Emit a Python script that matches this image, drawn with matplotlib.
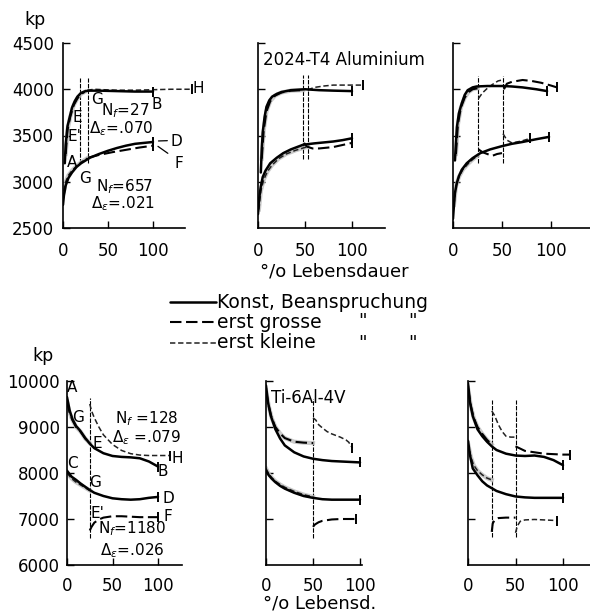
import matplotlib
matplotlib.use("Agg")
import matplotlib.pyplot as plt
from matplotlib.lines import Line2D

plt.rcParams['font.family'] = ['DejaVu Sans']
plt.rcParams['mathtext.fontset'] = 'dejavusans'

W, H = 590, 614

# ---------------- data: 2024-T4 Aluminium (kp vs % life) ----------------
# panel A: one change near 20-28 %
al_a_const_hi_x = [2, 3, 5, 8, 10, 13, 16, 20, 25, 30, 40, 60, 80, 100]
al_a_const_hi_y = [3200, 3400, 3600, 3720, 3800, 3870, 3920, 3960, 3980, 3985, 3985, 3980, 3975, 3975]
al_a_const_lo_x = [0, 1, 3, 6, 10, 15, 20, 30, 40, 50, 60, 70, 80, 90, 100]
al_a_const_lo_y = [2750, 2850, 2960, 3040, 3100, 3160, 3200, 3260, 3300, 3335, 3365, 3390, 3410, 3420, 3430]
al_a_grosse_x = [[3, 5, 8, 12, 16, 20, 24], [28, 40, 55, 70, 85, 100]]
al_a_grosse_y = [[3300, 3560, 3700, 3830, 3900, 3950, 3970], [3260, 3290, 3320, 3345, 3370, 3390]]
al_a_kleine_x = [[1, 3, 6, 10, 15, 20, 27], [27, 35, 45, 60, 80, 100, 120, 143]]
al_a_kleine_y = [[2900, 3000, 3070, 3120, 3170, 3210, 3255], [3990, 4000, 3995, 3990, 3990, 3995, 4000, 4000]]
al_a_steps = [19, 28]
al_a_step_lo, al_a_step_hi = 3200, 4120

# panel B: change at ~50 %
al_b_const_hi_x = [3, 4, 5, 7, 9, 12, 15, 20, 25, 35, 50, 65, 80, 100]
al_b_const_hi_y = [3100, 3350, 3530, 3700, 3810, 3880, 3920, 3950, 3970, 3990, 4000, 3990, 3985, 3980]
al_b_const_lo_x = [0, 1, 3, 5, 8, 13, 20, 27, 35, 48, 60, 70, 80, 90, 100]
al_b_const_lo_y = [2650, 2800, 2950, 3050, 3120, 3200, 3260, 3310, 3350, 3400, 3415, 3425, 3435, 3450, 3470]
al_b_grosse_x = [[4, 6, 9, 13, 18, 25, 35, 48], [49, 52, 58, 65, 80, 100]]
al_b_grosse_y = [[3250, 3550, 3760, 3870, 3930, 3965, 3985, 3990], [3420, 3380, 3360, 3360, 3375, 3420]]
al_b_kleine_x = [[1, 3, 6, 10, 15, 22, 30, 40, 53], [53, 56, 60, 70, 80, 95, 112]]
al_b_kleine_y = [[2700, 2900, 3020, 3110, 3180, 3250, 3300, 3340, 3380], [3990, 4005, 4020, 4035, 4045, 4045, 4045]]
al_b_steps = [48, 53]
al_b_step_lo, al_b_step_hi = 3250, 4150

# panel C: changes at 25 % and 50 %
al_c_const_hi_x = [2, 3, 4, 6, 9, 12, 15, 20, 24, 35, 51, 60, 71, 85, 96]
al_c_const_hi_y = [3230, 3420, 3590, 3740, 3850, 3940, 3990, 4020, 4030, 4035, 4035, 4030, 4020, 4000, 3980]
al_c_const_lo_x = [0, 1, 2, 4, 6, 9, 14, 20, 28, 38, 50, 60, 71, 85, 98]
al_c_const_lo_y = [2600, 2750, 2880, 2990, 3060, 3130, 3200, 3255, 3310, 3350, 3385, 3410, 3430, 3460, 3485]
al_c_grosse_x = [[3, 5, 8, 12, 16, 20, 25], [26, 30, 35, 40, 45, 50], [52, 55, 60, 71, 80, 90, 100, 106]]
al_c_grosse_y = [[3300, 3620, 3800, 3910, 3970, 4000, 4010], [3350, 3320, 3300, 3280, 3300, 3310],
                 [4000, 4060, 4080, 4100, 4090, 4070, 4040, 4020]]
al_c_kleine_x = [[1, 3, 6, 10, 15, 20, 25], [26, 30, 35, 40, 46, 50], [51, 55, 60, 70, 79]]
al_c_kleine_y = [[2750, 2950, 3050, 3130, 3190, 3240, 3280], [3900, 3960, 4010, 4050, 4090, 4100],
                 [3520, 3450, 3420, 3440, 3470]]
al_c_steps = [25, 51]
al_c_step_lo, al_c_step_hi = 3200, 4140

# ---------------- data: Ti-6Al-4V ----------------
ti_a_const_hi_x = [0, 3, 6, 10, 14, 20, 25, 30, 40, 50, 60, 70, 80, 90, 100]
ti_a_const_hi_y = [9650, 9350, 9170, 9020, 8930, 8760, 8640, 8540, 8430, 8370, 8350, 8340, 8320, 8250, 8140]
ti_a_const_lo_x = [0, 5, 10, 15, 20, 25, 30, 40, 50, 60, 70, 80, 90, 100]
ti_a_const_lo_y = [8050, 7920, 7850, 7770, 7700, 7630, 7570, 7500, 7450, 7430, 7420, 7430, 7460, 7480]
ti_a_grosse_x = [[0, 3, 6, 10, 15, 20, 25], [25, 27, 30, 35, 40, 50, 60, 70, 80, 90, 100]]
ti_a_grosse_y = [[9550, 9300, 9150, 9000, 8900, 8750, 8650],
                 [6750, 6830, 6920, 6990, 7030, 7060, 7060, 7050, 7040, 7040, 7040]]
ti_a_kleine_x = [[0, 5, 10, 15, 20, 25], [25, 27, 30, 35, 40, 50, 60, 70, 80, 90, 100, 113]]
ti_a_kleine_y = [[8000, 7880, 7800, 7740, 7680, 7620],
                 [9500, 9350, 9200, 9000, 8830, 8620, 8490, 8420, 8390, 8380, 8380, 8380]]
ti_a_steps = [25]
ti_a_step_lo, ti_a_step_hi = 6590, 9630

ti_b_const_hi_x = [0, 2, 5, 10, 15, 20, 30, 40, 50, 60, 70, 80, 90, 100]
ti_b_const_hi_y = [9900, 9550, 9250, 8950, 8750, 8600, 8450, 8360, 8310, 8280, 8260, 8250, 8240, 8230]
ti_b_const_lo_x = [0, 3, 6, 10, 15, 20, 30, 40, 50, 60, 70, 80, 90, 100]
ti_b_const_lo_y = [8050, 7950, 7880, 7800, 7720, 7660, 7570, 7500, 7460, 7430, 7420, 7420, 7420, 7420]
ti_b_grosse_x = [[0, 3, 6, 10, 15, 20, 30, 40, 50], [50, 52, 56, 60, 70, 80, 90, 96]]
ti_b_grosse_y = [[9800, 9450, 9200, 9000, 8860, 8760, 8680, 8660, 8650],
                 [6830, 6880, 6930, 6960, 6990, 7000, 7000, 7000]]
ti_b_kleine_x = [[0, 3, 6, 10, 15, 20, 30, 40, 50], [50, 53, 56, 60, 65, 70, 79, 85, 88, 92]]
ti_b_kleine_y = [[8100, 7980, 7900, 7820, 7750, 7690, 7600, 7530, 7480],
                 [9200, 9150, 9050, 8980, 8900, 8850, 8780, 8720, 8670, 8540]]
ti_b_steps = [50]
ti_b_step_lo, ti_b_step_hi = 6590, 9600

ti_c_const_hi_x = [0, 2, 5, 10, 15, 20, 25, 30, 40, 50, 60, 70, 80, 90, 100]
ti_c_const_hi_y = [9950, 9550, 9240, 8950, 8800, 8680, 8580, 8500, 8420, 8380, 8370, 8380, 8350, 8280, 8170]
ti_c_const_lo_x = [0, 2, 5, 10, 15, 20, 25, 30, 40, 50, 60, 70, 80, 90, 100]
ti_c_const_lo_y = [8700, 8400, 8100, 7950, 7820, 7730, 7670, 7610, 7540, 7490, 7470, 7460, 7460, 7460, 7460]
ti_c_grosse_x = [[0, 3, 6, 10, 15, 20, 25], [25, 26, 28, 32, 40, 50], [50, 55, 60, 70, 80, 90, 100, 107]]
ti_c_grosse_y = [[9850, 9450, 9200, 9000, 8850, 8720, 8620], [6720, 6900, 6980, 7020, 7030, 7030],
                 [8580, 8530, 8480, 8450, 8420, 8410, 8400, 8400]]
ti_c_kleine_x = [[0, 3, 6, 10, 15, 20, 25], [25, 28, 32, 36, 40, 45, 50], [50, 52, 55, 60, 70, 80, 90, 94]]
ti_c_kleine_y = [[8650, 8350, 8170, 8050, 7960, 7890, 7850], [9350, 9250, 9050, 8900, 8800, 8780, 8780],
                 [6700, 6850, 6950, 6980, 6990, 6980, 6970, 6960]]
ti_c_steps = [25, 50]
ti_c_step_lo, ti_c_step_hi = 6610, 9590

x_ticks = [0, 50, 100]
al_yticks = [2500, 3000, 3500, 4000, 4500]
ti_yticks = [6000, 7000, 8000, 9000, 10000]

legend_labels = ["Konst, Beanspruchung", "erst grosse", "erst kleine"]

# ---------------- figure ----------------
fig = plt.figure(figsize=(W / 100, H / 100), dpi=100)
fig.patch.set_facecolor('white')

SOLID = dict(color='black', lw=1.8, linestyle='-', solid_capstyle='round')
GROSSE = dict(color='black', lw=1.5, linestyle=(0, (5.5, 2.2)))
KLEINE = dict(color='#222222', lw=1.1, linestyle=(0, (3.5, 1.8)))
UNDER = dict(color='#bdbdbd', lw=3.0, linestyle='-', alpha=0.8)


def add_ax(left, top, xscale, xmax, bottom, ymin, ymax):
    width = xscale * xmax
    ax = fig.add_axes([left / W, 1 - bottom / H, width / W, (bottom - top) / H])
    ax.set_xlim(0, xmax)
    ax.set_ylim(ymin, ymax)
    ax.patch.set_alpha(0)
    for s in ['top', 'right']:
        ax.spines[s].set_visible(False)
    for s in ['left', 'bottom']:
        ax.spines[s].set_linewidth(1.2)
    return ax


def endcap(ax, x, y, size=7):
    ax.plot([x[-1]], [y[-1]], marker='|', color='black', markersize=size, mew=1.4)


def draw_panel(ax, hi_x, hi_y, lo_x, lo_y, gx, gy, kx, ky, steps, s_lo, s_hi):
    ax.vlines(steps, s_lo, s_hi, color='black', lw=0.8, linestyles=(0, (4, 1.2)))
    # grey fuzz where the first block overlaps the constant-amplitude curve
    ax.plot(kx[0], ky[0], **UNDER)
    ax.plot(gx[0], gy[0], **UNDER)
    for xs, ys in zip(kx, ky):
        ax.plot(xs, ys, **KLEINE)
    for xs, ys in zip(gx, gy):
        ax.plot(xs, ys, **GROSSE)
    ax.plot(hi_x, hi_y, **SOLID)
    ax.plot(lo_x, lo_y, **SOLID)
    endcap(ax, hi_x, hi_y)
    endcap(ax, lo_x, lo_y)
    endcap(ax, gx[-1], gy[-1])
    endcap(ax, kx[-1], ky[-1])


def style(ax, yticks, show_ylab, xbound, xpad, ypad):
    ax.spines['bottom'].set_bounds(0, xbound)
    ax.set_xticks(x_ticks)
    ax.set_yticks(yticks)
    ax.tick_params(axis='both', direction='in', length=5, width=1.0, labelsize=12)
    ax.tick_params(axis='x', pad=xpad)
    ax.tick_params(axis='y', pad=ypad, labelleft=show_ylab)


# top row
axA = add_ax(63, 43, 0.90, 145, 228, 2500, 4500)
axB = add_ax(258, 43, 0.94, 140, 228, 2500, 4500)
axC = add_ax(453, 43, 0.98, 140, 228, 2500, 4500)
# bottom row
axD = add_ax(67, 381, 0.91, 130, 565, 6000, 10000)
axE = add_ax(266, 381, 0.94, 130, 565, 6000, 10000)
axF = add_ax(468, 381, 0.95, 128, 565, 6000, 10000)

draw_panel(axA, al_a_const_hi_x, al_a_const_hi_y, al_a_const_lo_x, al_a_const_lo_y,
           al_a_grosse_x, al_a_grosse_y, al_a_kleine_x, al_a_kleine_y, al_a_steps, al_a_step_lo, al_a_step_hi)
draw_panel(axB, al_b_const_hi_x, al_b_const_hi_y, al_b_const_lo_x, al_b_const_lo_y,
           al_b_grosse_x, al_b_grosse_y, al_b_kleine_x, al_b_kleine_y, al_b_steps, al_b_step_lo, al_b_step_hi)
draw_panel(axC, al_c_const_hi_x, al_c_const_hi_y, al_c_const_lo_x, al_c_const_lo_y,
           al_c_grosse_x, al_c_grosse_y, al_c_kleine_x, al_c_kleine_y, al_c_steps, al_c_step_lo, al_c_step_hi)
draw_panel(axD, ti_a_const_hi_x, ti_a_const_hi_y, ti_a_const_lo_x, ti_a_const_lo_y,
           ti_a_grosse_x, ti_a_grosse_y, ti_a_kleine_x, ti_a_kleine_y, ti_a_steps, ti_a_step_lo, ti_a_step_hi)
draw_panel(axE, ti_b_const_hi_x, ti_b_const_hi_y, ti_b_const_lo_x, ti_b_const_lo_y,
           ti_b_grosse_x, ti_b_grosse_y, ti_b_kleine_x, ti_b_kleine_y, ti_b_steps, ti_b_step_lo, ti_b_step_hi)
draw_panel(axF, ti_c_const_hi_x, ti_c_const_hi_y, ti_c_const_lo_x, ti_c_const_lo_y,
           ti_c_grosse_x, ti_c_grosse_y, ti_c_kleine_x, ti_c_kleine_y, ti_c_steps, ti_c_step_lo, ti_c_step_hi)

style(axA, al_yticks, True, 135, 10, 6.5)
style(axB, al_yticks[1:], False, 135, 10, 6.5)
style(axC, al_yticks[1:], False, 140, 10, 6.5)
style(axD, ti_yticks, True, 126, 8.5, 5)
style(axE, ti_yticks[1:], False, 102, 8.5, 5)
style(axF, ti_yticks[1:], False, 128, 8.5, 5)

# ---------------- annotations ----------------
FS = 11
def lab(ax, x, y, s, fs=FS, ha='center'):
    ax.text(x, y, s, fontsize=fs, ha=ha, va='center', clip_on=False)

# Aluminium panel A
lab(axA, 150, 4003, "H")
lab(axA, 104, 3830, "B")
lab(axA, 38, 3884, "G")
lab(axA, 69, 3765, "N$_f$=27")
lab(axA, 65, 3575, "Δ$_\\varepsilon$=.070")
lab(axA, 15.5, 3700, "E")
lab(axA, 13, 3484, "E'")
lab(axA, 10, 3213, "A")
lab(axA, 24, 3040, "G")
lab(axA, 126, 3430, "D")
lab(axA, 129, 3200, "F")
lab(axA, 69, 2945, "N$_f$=657")
lab(axA, 67, 2760, "Δ$_\\varepsilon$=.021")
axA.annotate("", xy=(103, 3440), xytext=(119, 3445), arrowprops=dict(arrowstyle='-', lw=0.9))
axA.annotate("", xy=(103, 3400), xytext=(119, 3290), arrowprops=dict(arrowstyle='-', lw=0.9))
axB.text(5, 4316, "2024-T4 Aluminium", fontsize=12, ha='left', va='center')

# Ti panel D
lab(axD, 5.5, 9848, "A")
lab(axD, 12, 9196, "G")
lab(axD, 88, 9175, "N$_f$ =128")
lab(axD, 88, 8770, "Δ$_\\varepsilon$ =.079")
lab(axD, 33, 8652, "E")
lab(axD, 121, 8326, "H")
lab(axD, 5.5, 8217, "C")
lab(axD, 105, 8030, "B")
lab(axD, 31, 7783, "G")
lab(axD, 111, 7440, "D")
lab(axD, 33, 7130, "E'")
lab(axD, 111, 7060, "F")
lab(axD, 72, 6780, "N$_f$=1180")
lab(axD, 72, 6310, "Δ$_\\varepsilon$=.026")
axE.text(5, 9630, "Ti-6Al-4V", fontsize=12, ha='left', va='center')

# ---------------- figure texts and legend ----------------
def ftext(x, y, s, ha='center', fs=12.5):
    fig.text(x / W, 1 - y / H, s, ha=ha, va='center', fontsize=fs)

ftext(35, 20, "kp")
ftext(43, 356, "kp")
ftext(334, 271, "°/o Lebensdauer", fs=13)
ftext(320, 604, "°/o Lebensd.", fs=13)

leg_y = [302, 322, 343]
leg_styles = [SOLID, GROSSE, KLEINE]
for yy, st, txt in zip(leg_y, leg_styles, legend_labels):
    fig.add_artist(Line2D([170 / W, 216 / W], [1 - yy / H, 1 - yy / H], transform=fig.transFigure, **st))
    ftext(217, yy, txt, ha='left', fs=13.5)
for yy in leg_y[1:]:
    ftext(363, yy, '"', fs=13.5)
    ftext(413, yy, '"', fs=13.5)

fig.savefig("out.png", dpi=100, facecolor='white')
